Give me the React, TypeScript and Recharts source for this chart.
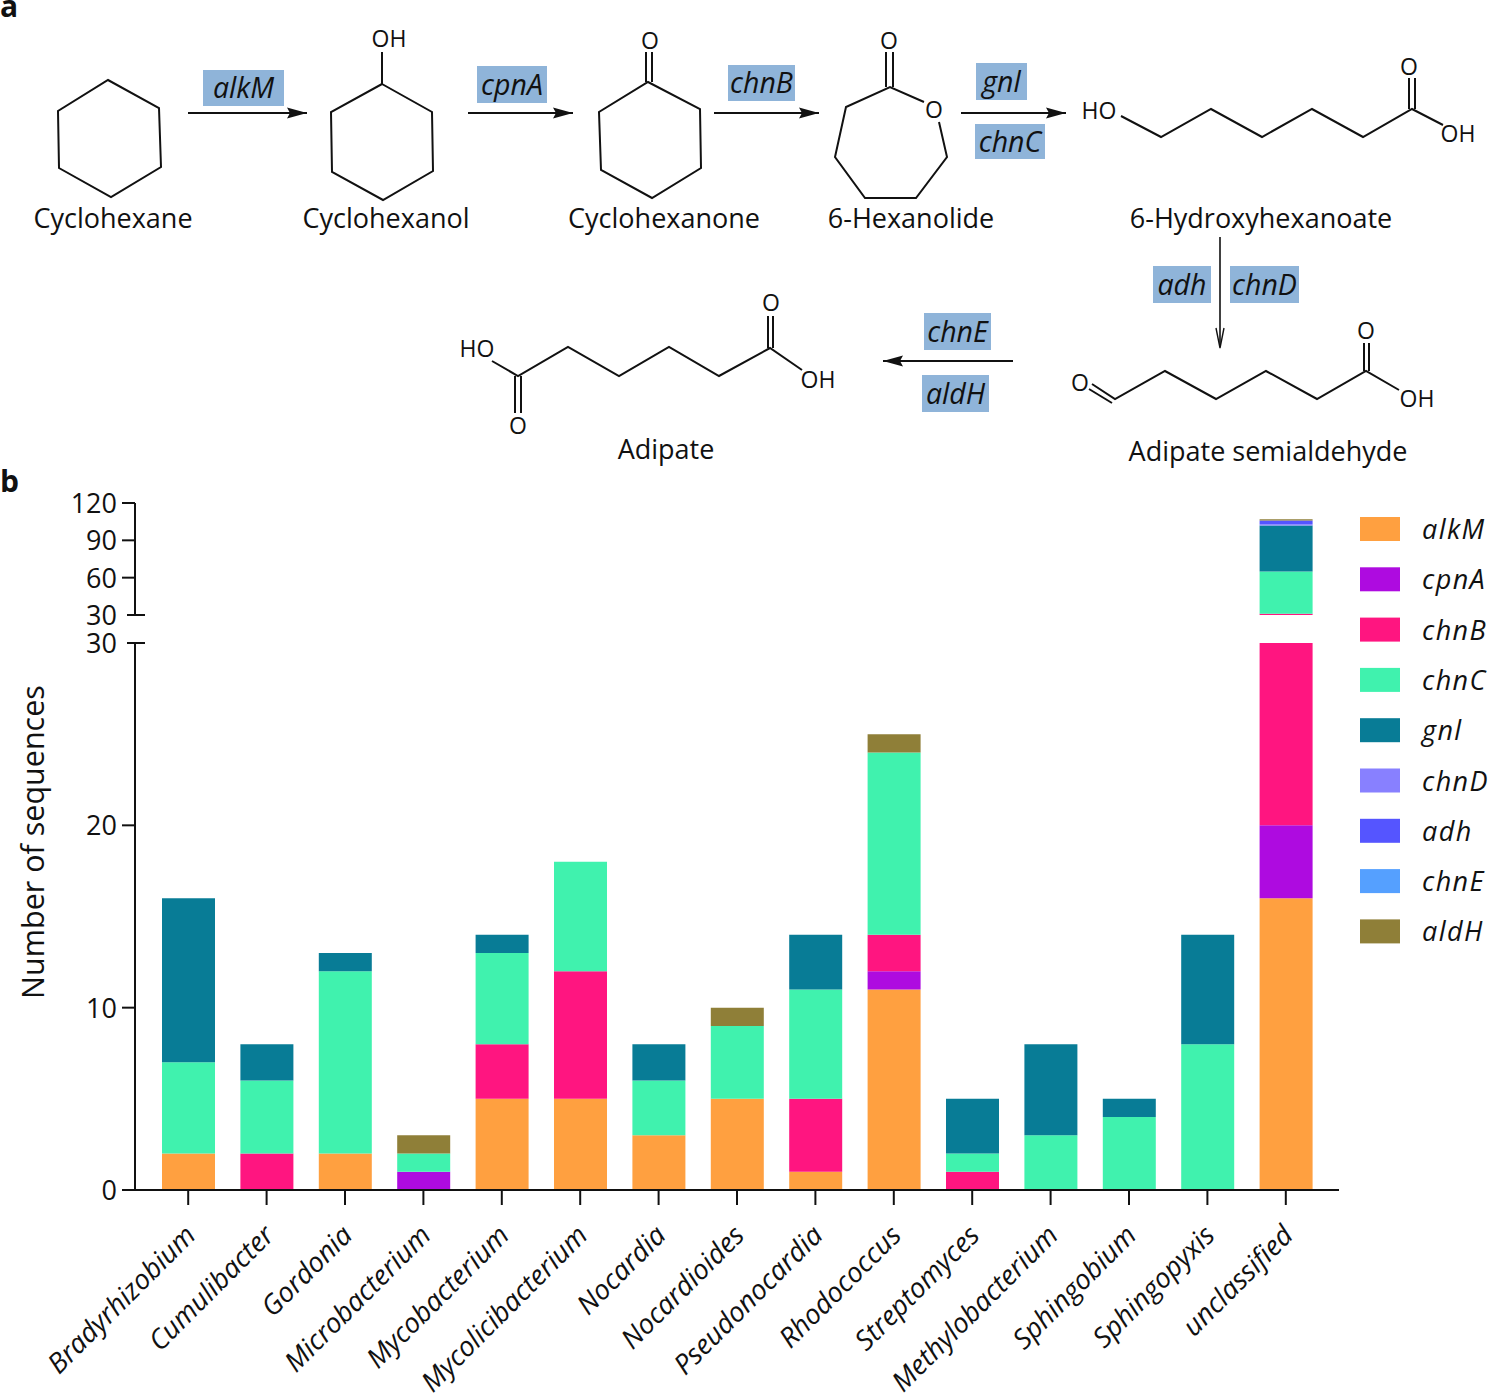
import { BarChart, Bar, XAxis, YAxis } from 'recharts'

const genera = [
  'Bradyrhizobium', 'Cumulibacter', 'Gordonia', 'Microbacterium', 'Mycobacterium',
  'Mycolicibacterium', 'Nocardia', 'Nocardioides', 'Pseudonocardia', 'Rhodococcus',
  'Streptomyces', 'Methylobacterium', 'Sphingobium', 'Sphingopyxis', 'unclassified',
]

const alkM = [2, 0, 2, 0, 5, 5, 3, 5, 1, 11, 0, 0, 0, 0, 16]
const cpnA = [0, 0, 0, 1, 0, 0, 0, 0, 0, 1, 0, 0, 0, 0, 4]
const chnB = [0, 2, 0, 0, 3, 7, 0, 0, 4, 2, 1, 0, 0, 0, 11]
const chnC = [5, 4, 10, 1, 5, 6, 3, 4, 6, 10, 1, 3, 4, 8, 34]
const gnl = [9, 2, 1, 0, 1, 0, 2, 0, 3, 0, 3, 5, 1, 6, 37]
const chnD = [0, 0, 0, 0, 0, 0, 0, 0, 0, 0, 0, 0, 0, 0, 1]
const adh = [0, 0, 0, 0, 0, 0, 0, 0, 0, 0, 0, 0, 0, 0, 3]
const chnE = [0, 0, 0, 0, 0, 0, 0, 0, 0, 0, 0, 0, 0, 0, 0]
const aldH = [0, 0, 0, 1, 0, 0, 0, 1, 0, 1, 0, 0, 0, 0, 1]

const geneNames = ['alkM', 'cpnA', 'chnB', 'chnC', 'gnl', 'chnD', 'adh', 'chnE', 'aldH']
const geneValues = [alkM, cpnA, chnB, chnC, gnl, chnD, adh, chnE, aldH]
const geneColors = ['#ffa040', '#ae0be0', '#ff1580', '#40f2ae', '#087c96', '#8880ff', '#5555ff', '#55a0ff', '#8f7f38']

const lowerTicks = [0, 10, 20, 30]
const upperTicks = [30, 60, 90, 120]

const rows = genera.map((name, i) => {
  const row: Record<string, string | number> = { name }
  geneNames.forEach((g, j) => { row[g] = geneValues[j][i] })
  return row
})

const FONT = '"Open Sans", sans-serif'
const CHIP = '#8fb4d9'
const INK = '#111'

function YTick({ x, y, payload }: any) {
  const isBreak = payload.value === 30
  return (
    <g>
      <line x1={isBreak ? x - 8 : x - 13} x2={isBreak ? x + 10 : x} y1={y} y2={y} stroke={INK} strokeWidth={2} />
      <text x={x - 18} y={y + 10} textAnchor="end" fontSize={27} fontFamily={FONT} fill={INK}>{payload.value}</text>
    </g>
  )
}

function XTick({ x, y, payload }: any) {
  return (
    <text
      transform={`translate(${x + 9},${y + 30}) rotate(-45)`}
      textAnchor="end"
      fontSize={27.5}
      fontStyle="italic"
      fontFamily={FONT}
      fill={INK}
    >
      {payload.value}
    </text>
  )
}

function StackedPanel({ domain, ticks, height, top, marginTop, marginBottom, showX }: any) {
  return (
    <div style={{ position: 'absolute', left: 0, top }}>
      <BarChart
        width={1345}
        height={height}
        data={rows}
        margin={{ top: marginTop, right: 6, bottom: marginBottom, left: 0 }}
      >
        <XAxis
          dataKey="name"
          hide={!showX}
          interval={0}
          height={206}
          padding={{ left: 14, right: 14 }}
          tick={<XTick />}
          tickSize={15}
          axisLine={{ stroke: INK, strokeWidth: 2 }}
          tickLine={{ stroke: INK, strokeWidth: 2 }}
        />
        <YAxis
          width={135}
          domain={domain}
          ticks={ticks}
          allowDataOverflow
          interval={0}
          tick={<YTick />}
          tickSize={0}
          tickMargin={0}
          tickLine={false}
          axisLine={{ stroke: INK, strokeWidth: 2 }}
        />
        {geneNames.map((g, i) => (
          <Bar key={g} dataKey={g} stackId="genes" fill={geneColors[i]} barSize={53} isAnimationActive={false} />
        ))}
      </BarChart>
    </div>
  )
}

// pathway scheme above the chart
const rings = [
  '108,80 159,108 161,167 111,197 59,168 58,111',
  '382,84 432,112 433,171 383,200 332,172 331,112',
  '648,82 700,109 701,168 652,198 601,170 599,112',
]
const bonds = [
  '382,84 382,52',
  '646,82 646,52', '652,82 652,52',
  '924,102 890,87 846,107 835,157 865,198 916,198 947,157 939,122',
  '886,87 886,52', '893,87 893,52',
  '1121,116 1161,137 1211,109 1262,137 1312,109 1363,137 1412,109 1443,125',
  '1409,109 1409,78', '1415,109 1415,78',
  '1092,384 1115,399 1165,371 1216,399 1266,371 1317,399 1366,371 1399,390',
  '1089,389 1112,403',
  '1364,371 1364,343', '1369,371 1369,343',
  '492,361 518,376 568,347 619,376 669,347 719,376 770,348 802,370',
  '768,348 768,316', '773,348 773,316',
  '515,376 515,413', '521,376 521,413',
]
const atoms = [
  ['OH', 389, 39], ['O', 650, 41], ['O', 889, 41], ['O', 934, 110],
  ['HO', 1099, 111], ['O', 1409, 67], ['OH', 1458, 134],
  ['O', 1080, 383], ['O', 1366, 331], ['OH', 1417, 399],
  ['HO', 477, 349], ['O', 771, 303], ['OH', 818, 380], ['O', 518, 426],
]
const compounds = [
  ['Cyclohexane', 113, 218], ['Cyclohexanol', 386, 218], ['Cyclohexanone', 664, 218],
  ['6-Hexanolide', 911, 218], ['6-Hydroxyhexanoate', 1261, 218],
  ['Adipate semialdehyde', 1268, 451], ['Adipate', 666, 449],
]
const chips = [
  ['alkM', 203, 70, 81, 36], ['cpnA', 477, 66, 70, 37], ['chnB', 728, 65, 67, 36],
  ['gnl', 976, 63, 51, 37], ['chnC', 975, 124, 70, 35], ['adh', 1153, 266, 58, 37],
  ['chnD', 1230, 266, 69, 37], ['chnE', 924, 313, 67, 37], ['aldH', 922, 375, 67, 37],
]
const arrows = [
  [188, 113, 307, 113], [468, 113, 573, 113], [714, 113, 819, 113], [961, 113, 1066, 113],
  [1013, 361, 883, 361],
]

function Scheme() {
  return (
    <svg width={1489} height={1396} style={{ position: 'absolute', left: 0, top: 0 }}>
      <defs>
        <marker id="head" markerUnits="userSpaceOnUse" markerWidth={22} markerHeight={12} refX={20} refY={6} orient="auto">
          <path d="M0,0.5 L20,6 L0,11.5 L3,6 Z" fill={INK} />
        </marker>
      </defs>
      <text x={0} y={17} fontSize={30} fontWeight={700} fontFamily={FONT} fill={INK}>a</text>
      <text x={0} y={492} fontSize={30} fontWeight={700} fontFamily={FONT} fill={INK}>b</text>
      {rings.map(p => <polygon key={p} points={p} fill="none" stroke={INK} strokeWidth={2} />)}
      {bonds.map(p => <polyline key={p} points={p} fill="none" stroke={INK} strokeWidth={2} />)}
      {atoms.map(([t, x, y], i) => (
        <text key={i} x={x as number} y={(y as number) + 8} textAnchor="middle" fontSize={23} fontFamily={FONT} fill={INK}>{t}</text>
      ))}
      {compounds.map(([t, x, y]) => (
        <text key={t as string} x={x as number} y={(y as number) + 10} textAnchor="middle" fontSize={27} fontFamily={FONT} fill={INK}>{t}</text>
      ))}
      {chips.map(([t, x, y, w, h]) => (
        <g key={t as string}>
          <rect x={x as number} y={y as number} width={w as number} height={h as number} fill={CHIP} />
          <text x={(x as number) + (w as number) / 2} y={(y as number) + (h as number) / 2 + 10} textAnchor="middle" fontSize={28.5} fontStyle="italic" fontFamily={FONT} fill={INK}>{t}</text>
        </g>
      ))}
      {arrows.map((a, i) => (
        <line key={i} x1={a[0]} y1={a[1]} x2={a[2]} y2={a[3]} stroke={INK} strokeWidth={2} markerEnd="url(#head)" />
      ))}
      <line x1={1220} y1={237} x2={1220} y2={347} stroke={INK} strokeWidth={1.6} />
      <polyline points="1216,328 1220,348 1224,328" fill="none" stroke={INK} strokeWidth={1.4} />
      <text transform="translate(44,842) rotate(-90)" textAnchor="middle" fontSize={30.5} fontFamily={FONT} fill={INK}>Number of sequences</text>
      {geneNames.map((g, i) => (
        <g key={g}>
          <rect x={1360} y={517 + i * 50.3} width={40} height={24} fill={geneColors[i]} />
          <text x={1422} y={539 + i * 50.3} fontSize={27} fontStyle="italic" letterSpacing={1.4} fontFamily={FONT} fill={INK}>{g}</text>
        </g>
      ))}
    </svg>
  )
}

export default function App() {
  return (
    <div style={{ position: 'absolute', left: 0, top: 0, width: 1489, height: 1396, background: '#fff', overflow: 'hidden' }}>
      <Scheme />
      <StackedPanel domain={[30, 120]} ticks={upperTicks} top={480} height={160} marginTop={23} marginBottom={25} showX={false} />
      <StackedPanel domain={[0, 30]} ticks={lowerTicks} top={620} height={776} marginTop={23} marginBottom={0} showX />
    </div>
  )
}
